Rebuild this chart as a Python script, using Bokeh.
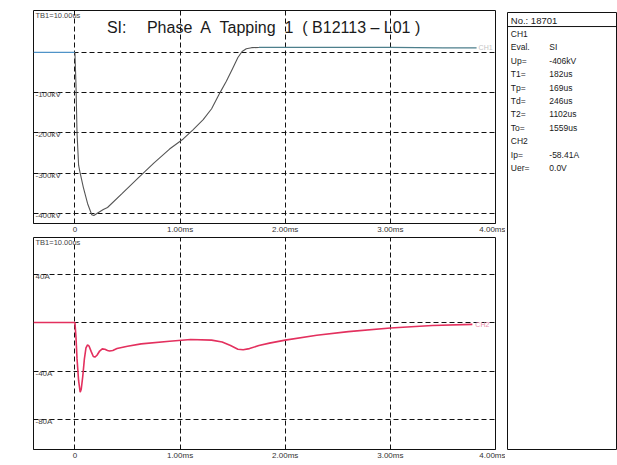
from bokeh.plotting import figure
from bokeh.layouts import row, column
from bokeh.models import Range1d, FixedTicker, Span
from bokeh.embed import file_html
from bokeh.resources import INLINE
from bokeh.core.properties import value

FONT = "Liberation Sans"

# ---------------- data ----------------
# CH1 voltage (kV) vs time (ms)
t_pre = [-0.394, 0.0]
u_pre = [0, 0]
t_u = [0.0, 0.01, 0.02, 0.035, 0.05, 0.08, 0.12, 0.16, 0.18, 0.22, 0.27, 0.31, 0.45, 0.60,
       0.75, 0.90, 1.03, 1.12, 1.22, 1.30, 1.38, 1.44, 1.50, 1.55, 1.59, 1.63, 1.68, 1.75]
u_kv = [0, -80, -200, -280, -300, -335, -375, -403, -405, -398, -390, -385, -350, -312,
        -275, -240, -215, -193, -167, -140, -100, -72, -40, -13, 2, 9, 11.5, 12]
t_tail = [1.75, 2.0, 2.5, 3.0, 3.5, 3.82]
u_tail = [12, 12, 12, 12, 11, 11]

# CH2 current (A) vs time (ms)
t_i = [-0.394, 0.0, 0.01, 0.02, 0.035, 0.05, 0.06, 0.075, 0.09, 0.105, 0.12, 0.135,
       0.155, 0.175, 0.19, 0.21, 0.235, 0.26, 0.285, 0.31, 0.33, 0.36, 0.40, 0.5, 0.63,
       0.9, 1.1, 1.3, 1.4, 1.48, 1.55, 1.6, 1.66, 1.75, 1.85, 2.0, 2.3, 2.6, 3.0, 3.4, 3.78]
i_a = [0, 0, -12, -30, -48, -57.5, -55, -44, -30, -21, -18.5, -19.5,
       -24, -28, -28.5, -27, -23.5, -21.7, -22, -23, -23.5, -23, -21.5, -19.5, -17.6,
       -15.5, -14, -14.5, -16, -19, -22, -22.5, -21.5, -19, -17, -14.5, -10.5, -7.5, -4.5, -2.5, -1.5]

x_ticks = [0, 1, 2, 3, 4]
x_labels = ["0", "1.00ms", "2.00ms", "3.00ms", "4.00ms"]
u_grid = [0, -100, -200, -300, -400]
u_ticks = [-100, -200, -300, -400]
u_labels = ["-100kV", "-200kV", "-300kV", "-400kV"]
i_grid = [40, 0, -40, -80]
i_ticks = [40, -40, -80]
i_labels = ["40A", "-40A", "-80A"]
timebase = "TB1=10.00us"
title_text = "SI:\u2003\u00a0Phase\u00a0 A\u00a0 Tapping\u00a0 1\u00a0 (\u00a0B12113 – L01 )"
ch_names = ["CH1", "CH2"]

record_no = "No.: 18701"
info_keys = ["CH1", "Eval.", "Up=", "T1=", "Tp=", "Td=", "T2=", "To=", "CH2", "Ip=", "Uer="]
info_vals = ["", "SI", "-406kV", "182us", "169us", "246us", "1102us", "1559us", "", "-58.41A", "0.0V"]

X_START, X_END = -0.394, 4.0


def scope_plot(height, y0, y1, border_top, border_bottom, grid_vals):
    p = figure(width=505, height=height, output_backend="svg", toolbar_location=None,
               x_range=Range1d(X_START, X_END), y_range=Range1d(y0, y1),
               min_border_left=33, min_border_right=10,
               min_border_top=border_top, min_border_bottom=border_bottom)
    p.background_fill_color = "white"
    p.border_fill_color = "white"
    p.outline_line_color = "#111111"
    p.outline_line_width = 1
    p.yaxis.visible = False
    ax = p.xaxis[0]
    ax.ticker = FixedTicker(ticks=x_ticks)
    ax.major_label_overrides = {t: l for t, l in zip(x_ticks, x_labels)}
    ax.major_tick_in = 0
    ax.major_tick_out = 0
    ax.minor_tick_in = 0
    ax.minor_tick_out = 0
    ax.axis_line_color = "#111111"
    ax.major_label_standoff = 1
    ax.major_label_text_font = FONT
    ax.major_label_text_font_size = "8px"
    ax.major_label_text_color = "#333333"
    p.xgrid.ticker = FixedTicker(ticks=x_ticks[:-1])
    p.ygrid.ticker = FixedTicker(ticks=grid_vals)
    for g in (p.xgrid[0], p.ygrid[0]):
        g.grid_line_color = "#111111"
        g.grid_line_dash = "5 3"
        g.grid_line_width = 1
    return p


# ---------------- top: voltage ----------------
p1 = scope_plot(236, -424.7, 103.7, 10, 12, u_grid)
p1.line(t_pre, u_pre, line_color="#4f93c8", line_width=1.3)
p1.line(t_u, u_kv, line_color="#555555", line_width=1.1)
p1.line(t_tail, u_tail, line_color="#4d7f8c", line_width=1.2)
p1.text(x=[X_START] * len(u_ticks), y=u_ticks, text=u_labels, x_offset=2, y_offset=2,
        text_font=value(FONT), text_font_size="8px", text_color="#444444",
        text_baseline="middle", text_align="left")
p1.text(x=[X_START], y=[91], text=[timebase], x_offset=2,
        text_font=value(FONT), text_font_size="7.5px", text_color="#444444",
        text_baseline="middle", text_align="left")
p1.text(x=[1.80], y=[62], text=[title_text], text_font=value(FONT),
        text_font_size="16px", text_color="#1a1a1a", text_baseline="middle",
        text_align="center")
p1.text(x=[t_tail[-1]], y=[u_tail[-1]], text=[ch_names[0]], x_offset=2,
        text_font=value(FONT), text_font_size="7px", text_color="#c4c4c4",
        text_baseline="middle", text_align="left")

# ---------------- bottom: current ----------------
p2 = scope_plot(228, -104.7, 70.1, 1, 15, i_grid)
p2.line(t_i, i_a, line_color="#e3305e", line_width=1.6)
p2.text(x=[X_START] * len(i_ticks), y=i_ticks, text=i_labels, x_offset=2, y_offset=2,
        text_font=value(FONT), text_font_size="8px", text_color="#444444",
        text_baseline="middle", text_align="left")
p2.text(x=[X_START], y=[66], text=[timebase], x_offset=2,
        text_font=value(FONT), text_font_size="7.5px", text_color="#444444",
        text_baseline="middle", text_align="left")
p2.text(x=[t_i[-1]], y=[i_a[-1]], text=[ch_names[1]], x_offset=3,
        text_font=value(FONT), text_font_size="7px", text_color="#ec8fab",
        text_baseline="middle", text_align="left")

# ---------------- right info panel ----------------
p3 = figure(width=112, height=464, output_backend="svg", toolbar_location=None,
            x_range=Range1d(0, 100), y_range=Range1d(32.01, -0.597),
            x_axis_location=None, y_axis_location=None,
            min_border_left=2, min_border_right=0, min_border_top=12, min_border_bottom=15)
p3.grid.visible = False
p3.outline_line_color = "#111111"
p3.outline_line_width = 1
p3.background_fill_color = "white"
p3.border_fill_color = "white"
rows = list(range(1, len(info_keys) + 1))
p3.text(x=[3], y=[0], text=[record_no], text_font=value(FONT), text_font_size="9.5px",
        text_color="#1a1a1a", text_baseline="middle", text_align="left")
p3.add_layout(Span(location=0.45, dimension="width", line_color="#111111", line_width=1))
p3.text(x=[3] * len(info_keys), y=rows, text=info_keys, text_font=value(FONT),
        text_font_size="8.5px", text_color="#1a1a1a", text_baseline="middle",
        text_align="left")
p3.text(x=[38] * len(info_vals), y=rows, text=info_vals, text_font=value(FONT),
        text_font_size="8.5px", text_color="#1a1a1a", text_baseline="middle",
        text_align="left")

layout = row(column(p1, p2), p3)
open("out.html", "w").write(file_html(layout, INLINE))
